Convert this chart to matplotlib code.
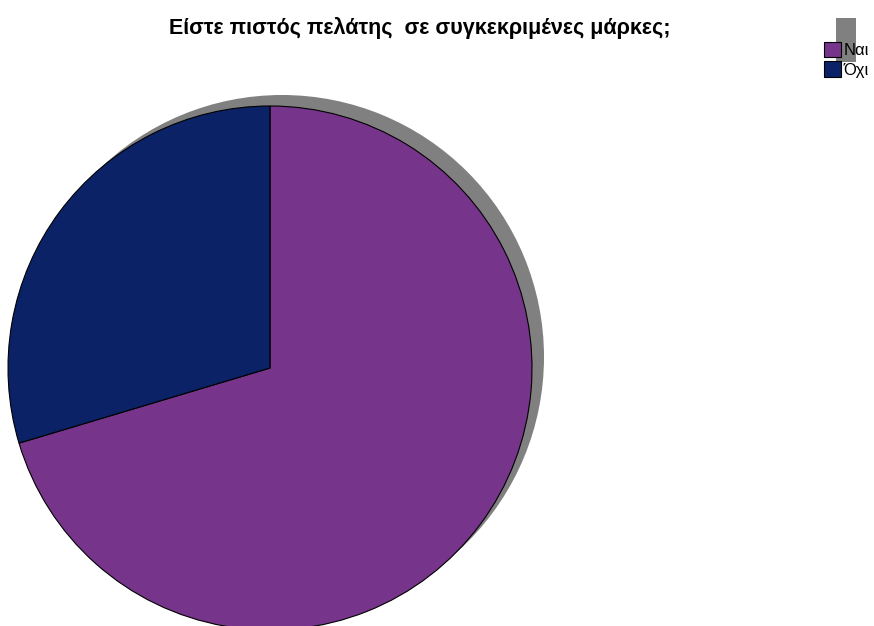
import matplotlib
matplotlib.use("Agg")
import matplotlib.pyplot as plt
from matplotlib.patches import Circle, Rectangle

# Απαντήσεις: πιστός πελάτης ή όχι
labels = ["Ναι", "Όχι"]
counts = [19, 8]
colors = ["#76348A", "#0C2266"]

SHADOW = "#808080"
W, H = 874, 626

plt.rcParams["font.family"] = ["Liberation Sans", "DejaVu Sans"]

fig = plt.figure(figsize=(W / 100, H / 100), dpi=100)
ax = fig.add_axes([0, 0, 1, 1])

cx, cy, r = 270, H - 368, 262

# σκιά πίσω από την πίτα
ax.add_patch(Circle((cx + 12, cy + 11), r, color=SHADOW, zorder=1, lw=0))

wedges, _ = ax.pie(counts, colors=colors, startangle=90, counterclock=False,
                   center=(cx, cy), radius=r, frame=True,
                   wedgeprops=dict(edgecolor="black", linewidth=0.8, zorder=2))
ax.set_xlim(0, W)
ax.set_ylim(0, H)
ax.axis("off")

fig.text(420 / W, 1 - 28 / H, "Είστε πιστός πελάτης  σε συγκεκριμένες μάρκες;",
         ha="center", va="center", fontsize=15.5,
         fontweight="bold", color="black")

# σκιά του υπομνήματος
ax.add_patch(Rectangle((836, H - 62), 20, 44, color=SHADOW, lw=0, zorder=3))

leg = ax.legend(wedges, labels, loc="upper left",
                bbox_to_anchor=(812 / W, 1 - 30 / H), bbox_transform=fig.transFigure,
                frameon=False, fontsize=12, handlelength=1.05, handleheight=1.05,
                handletextpad=0.12, labelspacing=0.2, borderpad=0.2)
leg.set_zorder(5)

fig.savefig("out.png", dpi=100, facecolor="white")
